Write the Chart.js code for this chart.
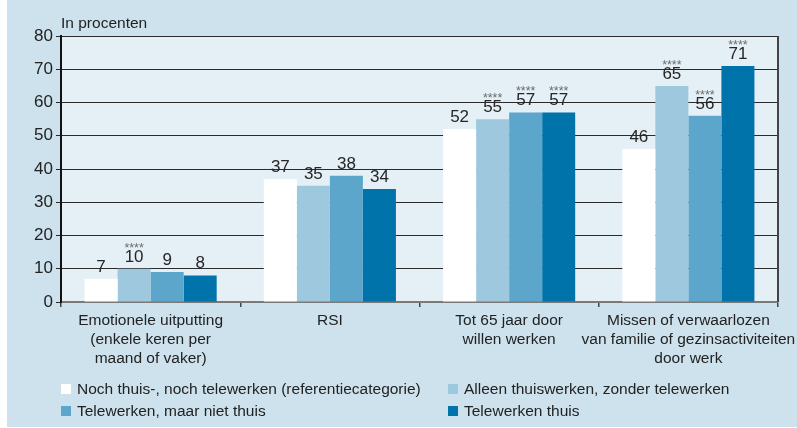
<!DOCTYPE html>
<html>
<head>
<meta charset="utf-8">
<script src="https://cdn.jsdelivr.net/npm/chart.js@4"></script>
<style>
html,body{margin:0;padding:0;background:#fff;}
canvas{display:block;}
</style>
</head>
<body>
<canvas id="c" width="797" height="428"></canvas>
<script>
const categories = [
  ["Emotionele uitputting", "(enkele keren per", "maand of vaker)"],
  ["RSI"],
  ["Tot 65 jaar door", "willen werken"],
  ["Missen of verwaarlozen", "van familie of gezinsactiviteiten", "door werk"]
];
const seriesNames = [
  "Noch thuis-, noch telewerken (referentiecategorie)",
  "Alleen thuiswerken, zonder telewerken",
  "Telewerken, maar niet thuis",
  "Telewerken thuis"
];
const seriesColors = ["#ffffff", "#9dc8de", "#5ca6cc", "#0073aa"];
const refValues = [7, 37, 52, 46];
const homeOnlyValues = [10, 35, 55, 65];
const teleNotHomeValues = [9, 38, 57, 56];
const teleHomeValues = [8, 34, 57, 71];
const refStars = [false, false, false, false];
const homeOnlyStars = [true, false, true, true];
const teleNotHomeStars = [false, false, true, true];
const teleHomeStars = [false, false, true, true];
const yTicks = [0, 10, 20, 30, 40, 50, 60, 70, 80];
const yTitle = "In procenten";

const FONT = "'Liberation Sans', Arial, sans-serif";
const allValues = [refValues, homeOnlyValues, teleNotHomeValues, teleHomeValues];
const allStars = [refStars, homeOnlyStars, teleNotHomeStars, teleHomeStars];

const bgPlugin = {
  id: 'bg',
  beforeDraw(chart) {
    const ctx = chart.ctx, a = chart.chartArea;
    ctx.save();
    ctx.fillStyle = '#ffffff';
    ctx.fillRect(0, 0, chart.width, chart.height);
    ctx.fillStyle = '#cde2ed';
    ctx.fillRect(7, 0, chart.width - 7, chart.height - 1);
    ctx.fillStyle = '#e4eff6';
    ctx.fillRect(a.left, a.top, a.right - a.left, a.bottom - a.top);
    ctx.restore();
  },
  afterDraw(chart) {
    const ctx = chart.ctx, a = chart.chartArea;
    ctx.save();
    ctx.strokeStyle = '#444';
    ctx.lineWidth = 2;
    ctx.beginPath();
    ctx.moveTo(a.right, a.top);
    ctx.lineTo(a.right, a.bottom);
    ctx.stroke();
    // y title
    ctx.fillStyle = '#222';
    ctx.font = '15.5px ' + FONT;
    ctx.textBaseline = 'alphabetic';
    ctx.textAlign = 'left';
    ctx.fillText(yTitle, 61, 27.5);
    // legend
    const pos = [[61, 389], [448, 389], [61, 411], [448, 411]];
    seriesNames.forEach((n, i) => {
      const [x, y] = pos[i];
      ctx.fillStyle = seriesColors[i];
      ctx.fillRect(x, y - 5, 10, 10);
      ctx.fillStyle = '#222';
      ctx.textBaseline = 'middle';
      ctx.fillText(n, x + 16, y + 1);
    });
    ctx.restore();
  },
  afterDatasetsDraw(chart) {
    const ctx = chart.ctx;
    ctx.save();
    ctx.textAlign = 'center';
    ctx.textBaseline = 'alphabetic';
    chart.data.datasets.forEach((ds, di) => {
      const meta = chart.getDatasetMeta(di);
      meta.data.forEach((bar, i) => {
        const v = ds.data[i];
        ctx.fillStyle = '#262626';
        ctx.font = '17px ' + FONT;
        ctx.fillText(String(v), bar.x, bar.y - 7);
        if (allStars[di][i]) {
          ctx.fillStyle = '#6a6a6a';
          ctx.font = '12.5px ' + FONT;
          ctx.fillText('****', bar.x, bar.y - 17);
        }
      });
    });
    ctx.restore();
  }
};

new Chart(document.getElementById('c'), {
  type: 'bar',
  data: {
    labels: categories,
    datasets: seriesNames.map((n, i) => ({
      label: n,
      data: allValues[i],
      backgroundColor: seriesColors[i],
      borderWidth: 0,
      categoryPercentage: 0.737,
      barPercentage: 1.0
    }))
  },
  options: {
    responsive: false,
    devicePixelRatio: 1,
    animation: false,
    layout: { padding: { left: 0, top: 36, right: 19, bottom: 0 } },
    plugins: { legend: { display: false }, tooltip: { enabled: false }, title: { display: false } },
    scales: {
      x: {
        afterFit(s) { s.height = 126; s.paddingLeft = 0; s.paddingRight = 0; },
        grid: { offset: true, drawOnChartArea: false, drawTicks: true, tickLength: 5, color: '#444', lineWidth: 1.5 },
        border: { display: true, color: '#7a7a7a', width: 2 },
        ticks: { color: '#222', font: { family: FONT, size: 15.5, lineHeight: 1.23 }, padding: 4, maxRotation: 0, autoSkip: false }
      },
      y: {
        min: 0, max: 80,
        afterFit(s) { s.width = 61; s.paddingTop = 0; s.paddingBottom = 0; },
        afterBuildTicks(s) { s.ticks = yTicks.map(v => ({ value: v })); },
        grid: { color: '#2a2a2a', lineWidth: 1, drawTicks: true, tickLength: 5 },
        border: { display: true, color: '#111', width: 2 },
        ticks: { color: '#222', font: { family: FONT, size: 17 }, padding: 3 }
      }
    }
  },
  plugins: [bgPlugin]
});
</script>
</body>
</html>
